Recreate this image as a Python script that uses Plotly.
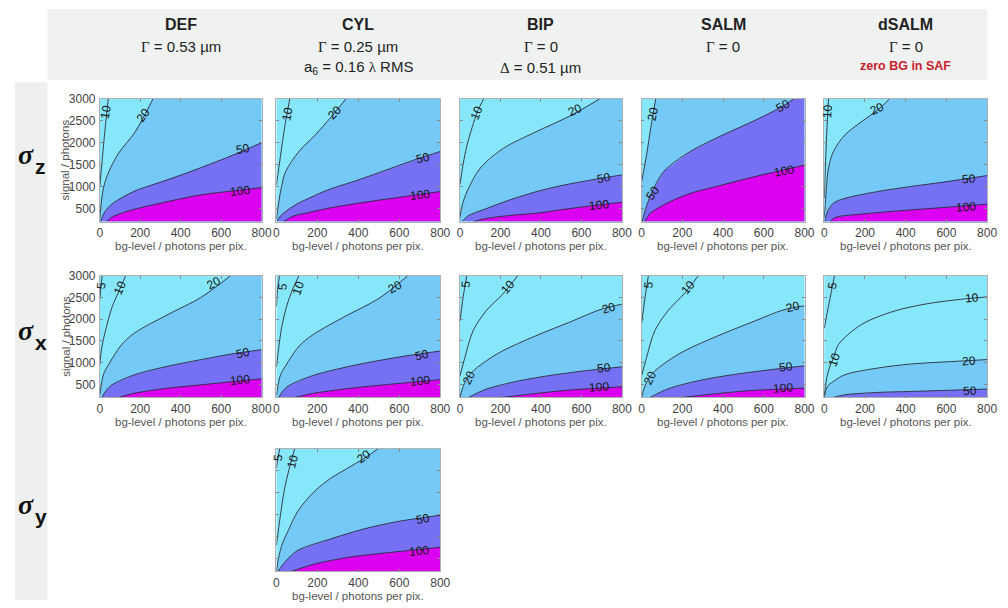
import plotly.graph_objects as go

# ---------------------------------------------------------------------------
# Iso-precision contour lines (nm), read per panel:
#   level -> (bg-level / photons per pix., signal / photons)
# ---------------------------------------------------------------------------
DEF_Z = {
    10: ([0, 12, 25, 36, 42], [1000, 1600, 2250, 2730, 3000]),
    20: ([0, 8, 20, 45, 93, 174, 263], [260, 650, 1000, 1340, 1760, 2240, 3000]),
    50: ([5, 20, 50, 100, 175, 340, 500, 660, 800], [200, 380, 560, 720, 900, 1160, 1430, 1720, 2000]),
    100: ([36, 60, 140, 340, 500, 660, 800], [200, 300, 440, 660, 810, 900, 975]),
}
CYL_Z = {
    10: ([0, 20, 40, 65], [1030, 1700, 2350, 3000]),
    20: ([0, 10, 25, 45, 110, 190, 260, 339], [260, 600, 1000, 1340, 1800, 2180, 2550, 3000]),
    50: ([2, 20, 45, 100, 158, 250, 400, 550, 700, 800], [200, 330, 430, 600, 730, 920, 1150, 1400, 1650, 1800]),
    100: ([37, 80, 158, 250, 400, 550, 700, 800], [200, 320, 405, 500, 620, 720, 820, 885]),
}
BIP_Z = {
    10: ([0, 15, 35, 60, 85, 117], [1050, 1500, 1950, 2350, 2700, 3000]),
    20: ([0, 10, 36, 100, 214, 376, 538, 690], [300, 560, 900, 1420, 1870, 2250, 2600, 3000]),
    50: ([11, 40, 133, 250, 376, 500, 650, 800], [200, 330, 500, 700, 880, 1020, 1150, 1265]),
    100: ([68, 130, 250, 376, 500, 650, 800], [200, 270, 340, 390, 470, 560, 640]),
}
SALM_Z = {
    20: ([0, 25, 45, 69], [1110, 1750, 2350, 3000]),
    50: ([3, 20, 45, 108, 239, 400, 561, 690, 747], [200, 500, 810, 1340, 1800, 2180, 2520, 2825, 3000]),
    100: ([16, 40, 77, 158, 250, 400, 550, 700, 800], [200, 380, 500, 695, 860, 1040, 1220, 1380, 1490]),
}
DSALM_Z = {
    10: ([0, 5, 12, 21], [730, 1400, 2200, 3000]),
    20: ([0, 8, 20, 45, 102, 183, 263, 320], [300, 800, 1400, 1800, 2180, 2480, 2750, 3000]),
    50: ([2, 15, 45, 102, 263, 425, 587, 800], [200, 420, 620, 730, 885, 1000, 1100, 1250]),
    100: ([29, 53, 183, 425, 587, 800], [200, 290, 370, 465, 520, 596]),
}
DEF_X = {
    5: ([0, 5, 12], [2450, 2700, 3000]),
    10: ([0, 10, 28, 60, 95, 128], [950, 1350, 1730, 2270, 2650, 3000]),
    20: ([0, 8, 20, 44, 109, 174, 337, 499, 645], [250, 500, 750, 960, 1420, 1690, 2110, 2500, 3000]),
    50: ([11, 30, 60, 174, 337, 499, 650, 800], [200, 350, 490, 725, 920, 1070, 1200, 1300]),
    100: ([93, 174, 337, 499, 650, 800], [200, 300, 415, 490, 560, 630]),
}
CYL_X = {
    5: ([0, 5, 15], [2300, 2650, 3000]),
    10: ([0, 10, 25, 50, 80, 110], [900, 1300, 1800, 2300, 2700, 3000]),
    20: ([0, 8, 20, 45, 110, 180, 340, 500, 640], [250, 480, 720, 930, 1380, 1650, 2080, 2480, 3000]),
    50: ([11, 30, 60, 175, 340, 500, 650, 800], [200, 340, 470, 700, 900, 1050, 1170, 1270]),
    100: ([90, 175, 340, 500, 650, 800], [200, 290, 400, 480, 545, 610]),
}
BIP_X = {
    5: ([0, 15, 33], [1960, 2500, 3000]),
    10: ([0, 24, 65, 130, 211, 285], [700, 1120, 1740, 2200, 2580, 3000]),
    20: ([0, 15, 49, 130, 211, 374, 537, 699, 800], [200, 450, 737, 1044, 1274, 1619, 1926, 2233, 2348]),
    50: ([41, 130, 293, 455, 618, 800], [200, 392, 584, 714, 814, 906]),
    100: ([211, 374, 537, 800], [200, 292, 369, 445]),
}
SALM_X = {
    5: ([0, 15, 33], [1900, 2450, 3000]),
    10: ([0, 24, 65, 130, 211, 278], [700, 1120, 1740, 2200, 2600, 3000]),
    20: ([0, 15, 49, 130, 211, 374, 537, 699, 800], [200, 450, 737, 1044, 1274, 1619, 1926, 2220, 2310]),
    50: ([41, 130, 293, 455, 618, 800], [200, 400, 600, 730, 830, 929]),
    100: ([200, 374, 537, 800], [200, 290, 360, 415]),
}
DSALM_X = {
    5: ([0, 25, 50], [1800, 2400, 3000]),
    10: ([0, 10, 30, 45, 70, 183, 345, 508, 670, 800], [250, 600, 950, 1100, 1420, 1880, 2190, 2360, 2460, 2515]),
    20: ([0, 15, 45, 102, 264, 427, 589, 800], [200, 450, 570, 724, 878, 971, 1017, 1072]),
    50: ([45, 102, 264, 427, 800], [200, 262, 316, 339, 393]),
}
CYL_Y = {
    5: ([0, 8, 16], [2560, 2800, 3000]),
    10: ([0, 20, 40, 60, 89], [800, 1500, 2100, 2500, 3000]),
    20: ([0, 10, 30, 57, 105, 187, 268, 349, 430, 495], [200, 500, 850, 1127, 1581, 2035, 2337, 2562, 2788, 3000]),
    50: ([8, 30, 57, 105, 268, 430, 592, 800], [200, 350, 495, 683, 947, 1174, 1340, 1483]),
    100: ([73, 187, 349, 511, 800], [200, 370, 521, 612, 751]),
}

# inline contour labels: (level, bg, signal, text angle)
DEF_Z_LBL = [(10, 30, 2700, -80), (20, 215, 2640, -55), (50, 707, 1860, -12), (100, 693, 900, -6)]
CYL_Z_LBL = [(10, 55, 2650, -78), (20, 288, 2690, -45), (50, 717, 1640, -12), (100, 700, 810, -6)]
BIP_Z_LBL = [(10, 82, 2677, -68), (20, 567, 2752, -25), (50, 713, 1187, -10), (100, 689, 568, -5)]
SALM_Z_LBL = [(20, 55, 2654, -78), (50, 55, 848, -55), (50, 693, 2842, -28), (100, 701, 1352, -10)]
DSALM_Z_LBL = [(10, 15, 2729, -85), (20, 257, 2781, -25), (50, 709, 1171, -5), (100, 694, 523, -4)]
DEF_X_LBL = [(5, 10, 2779, -85), (10, 99, 2727, -65), (20, 563, 2834, -28), (50, 709, 1224, -12), (100, 693, 600, -6)]
CYL_X_LBL = [(5, 29, 2750, -85), (10, 106, 2727, -70), (20, 578, 2750, -28), (50, 713, 1179, -12), (100, 699, 587, -6)]
BIP_X_LBL = [(5, 31, 2802, -85), (10, 236, 2742, -50), (20, 737, 2249, -15), (20, 42, 655, -65),
             (50, 713, 883, -7), (100, 689, 444, -4)]
SALM_X_LBL = [(5, 36, 2802, -85), (10, 230, 2742, -50), (20, 741, 2287, -15), (20, 40, 655, -65),
              (50, 707, 898, -7), (100, 693, 420, -4)]
DSALM_X_LBL = [(5, 39, 2768, -80), (10, 726, 2499, -5), (10, 47, 1072, -70), (20, 709, 1048, -4), (50, 717, 354, -3)]
CYL_Y_LBL = [(5, 8, 2789, -85), (10, 81, 2713, -75), (20, 430, 2826, -35), (50, 714, 1392, -12), (100, 698, 675, -6)]

# column headers
COL_TITLES = ["DEF", "CYL", "BIP", "SALM", "dSALM"]
COL_SUBTITLES = [
    ["<span style=\"font-family:'Liberation Serif'\">Γ</span> = 0.53 µm"],
    ["<span style=\"font-family:'Liberation Serif'\">Γ</span> = 0.25 µm",
     "a<sub>6</sub> = 0.16 <span style=\"font-family:'Liberation Serif'\">λ</span> RMS"],
    ["<span style=\"font-family:'Liberation Serif'\">Γ</span> = 0",
     "<span style=\"font-family:'Liberation Serif'\">Δ</span> = 0.51 µm"],
    ["<span style=\"font-family:'Liberation Serif'\">Γ</span> = 0"],
    ["<span style=\"font-family:'Liberation Serif'\">Γ</span> = 0"],
]
ROW_SUBSCRIPTS = ["z", "x", "y"]

X_TICKS = [0, 200, 400, 600, 800]
Y_TICKS = [500, 1000, 1500, 2000, 2500, 3000]
BG_RANGE = [0, 800]
SIG_RANGE = [200, 3000]

# (row, col, contour lines, labels)
PANELS = [
    (0, 0, DEF_Z, DEF_Z_LBL), (0, 1, CYL_Z, CYL_Z_LBL), (0, 2, BIP_Z, BIP_Z_LBL),
    (0, 3, SALM_Z, SALM_Z_LBL), (0, 4, DSALM_Z, DSALM_Z_LBL),
    (1, 0, DEF_X, DEF_X_LBL), (1, 1, CYL_X, CYL_X_LBL), (1, 2, BIP_X, BIP_X_LBL),
    (1, 3, SALM_X, SALM_X_LBL), (1, 4, DSALM_X, DSALM_X_LBL),
    (2, 1, CYL_Y, CYL_Y_LBL),
]

# ---------------------------------------------------------------------------
# styling / geometry
# ---------------------------------------------------------------------------
W, H = 1008, 608
COL_PX = [(98, 262), (277, 443), (463, 627), (647, 812), (832, 997)]
ROW_PX = [(93, 217), (272, 395), (447, 571)]

BASE_FILL = "#86E7FA"
LEVEL_FILLS = [(20, "#74C9F6"), (50, "#7670F4"), (100, "#DC00F0")]
LINE_COLOR = "#2b2b3a"
SANS = "Arial, 'Liberation Sans', sans-serif"
SERIF = "'Liberation Serif', 'Times New Roman', serif"


def px_x(px):
    return px / W


def px_y(py):
    return 1 - py / H


def paper_text(x, y, text, font, angle=0):
    return dict(x=px_x(x), y=px_y(y), xref="paper", yref="paper", text=text, textangle=angle,
                xanchor="center", yanchor="middle", showarrow=False, font=font)


def lower_right_region(bg, sig):
    """Polygon of the panel area lying on the high-sigma side of a contour."""
    xs, ys = list(bg), list(sig)
    if ys[-1] >= SIG_RANGE[1] and xs[-1] < BG_RANGE[1]:
        xs.append(BG_RANGE[1]); ys.append(SIG_RANGE[1])
    xs.append(BG_RANGE[1]); ys.append(SIG_RANGE[0])
    if xs[0] <= BG_RANGE[0] and ys[0] > SIG_RANGE[0]:
        xs.append(BG_RANGE[0]); ys.append(SIG_RANGE[0])
    return xs, ys


fig = go.Figure()
layout_axes = {}
annotations = []
axis_title_font = dict(family=SANS, size=11.5, color="#555")

for i, (row, col, lines, labels) in enumerate(PANELS, start=1):
    xa = "x" if i == 1 else f"x{i}"
    ya = "y" if i == 1 else f"y{i}"
    xkey = "xaxis" if i == 1 else f"xaxis{i}"
    ykey = "yaxis" if i == 1 else f"yaxis{i}"

    for lvl, color in LEVEL_FILLS:
        if lvl in lines:
            rx, ry = lower_right_region(*lines[lvl])
            fig.add_trace(go.Scatter(x=rx, y=ry, mode="lines", fill="toself", fillcolor=color,
                                     line=dict(width=0, color=color), xaxis=xa, yaxis=ya,
                                     hoverinfo="skip", showlegend=False))
    for lvl, (bg, sig) in lines.items():
        fig.add_trace(go.Scatter(x=bg, y=sig, mode="lines",
                                 line=dict(color=LINE_COLOR, width=0.9, shape="spline", smoothing=0.9),
                                 xaxis=xa, yaxis=ya, hoverinfo="skip", showlegend=False))
    for lvl, bx, sy, ang in labels:
        annotations.append(dict(x=bx, y=sy, xref=xa, yref=ya, text=str(lvl), textangle=ang,
                                xanchor="center", yanchor="middle", showarrow=False,
                                font=dict(family=SANS, size=12, color="#151515")))

    x0, x1 = COL_PX[col]
    y0, y1 = ROW_PX[row]
    layout_axes[xkey] = dict(
        domain=[px_x(x0), px_x(x1)], range=BG_RANGE, anchor=ya, tickvals=X_TICKS,
        ticks="inside", ticklen=3, tickcolor="#888", showline=True, linecolor="#b0b0b0",
        linewidth=0.6, mirror="ticks", showgrid=False, zeroline=False,
        tickfont=dict(family=SANS, size=12, color="#444"), fixedrange=True,
    )
    layout_axes[ykey] = dict(
        domain=[px_y(y1), px_y(y0)], range=SIG_RANGE, anchor=xa, tickvals=Y_TICKS,
        ticks="inside", ticklen=3, tickcolor="#888", showline=True, linecolor="#b0b0b0",
        linewidth=0.6, mirror="ticks", showgrid=False, zeroline=False,
        showticklabels=(col == 0), ticklabelstandoff=1,
        tickfont=dict(family=SANS, size=12, color="#444"), fixedrange=True,
    )
    annotations.append(paper_text((x0 + x1) / 2, y1 + 25, "bg-level / photons per pix.", axis_title_font))
    if col == 0:
        annotations.append(paper_text(63, (y0 + y1) / 2, "signal / photons", axis_title_font, angle=-90))

# column headers
for col, (title, subs) in enumerate(zip(COL_TITLES, COL_SUBTITLES)):
    cx = (COL_PX[col][0] + COL_PX[col][1]) / 2
    annotations.append(paper_text(cx, 18, f"<b>{title}</b>", dict(family=SANS, size=16, color="#222")))
    for k, s in enumerate(subs):
        annotations.append(paper_text(cx, 40 + 21 * k, s, dict(family=SANS, size=15, color="#222")))
annotations.append(paper_text(COL_PX[4][0] + 82, 60, "<b>zero BG in SAF</b>",
                              dict(family=SANS, size=12.5, color="#c8202a")))

# row labels (sigma_z, sigma_x, sigma_y)
for row, sub in enumerate(ROW_SUBSCRIPTS):
    cy = (ROW_PX[row][0] + ROW_PX[row][1]) / 2
    annotations.append(paper_text(23, cy - 6, "<b><i>σ</i></b>", dict(family=SERIF, size=28, color="#111")))
    annotations.append(paper_text(38, cy + 6, f"<b>{sub}</b>", dict(family=SANS, size=21, color="#111")))

shapes = [
    dict(type="rect", xref="paper", yref="paper", x0=px_x(45), x1=px_x(997), y0=px_y(74), y1=px_y(2),
         fillcolor="#f0f2f2", line=dict(width=0), layer="below"),
    dict(type="rect", xref="paper", yref="paper", x0=px_x(12), x1=px_x(45), y0=px_y(600), y1=px_y(76),
         fillcolor="#eef0f0", line=dict(width=0), layer="below"),
]

fig.update_layout(
    width=W, height=H, margin=dict(l=0, r=0, t=0, b=0), autosize=False,
    paper_bgcolor="white", plot_bgcolor=BASE_FILL, showlegend=False,
    annotations=annotations, shapes=shapes, **layout_axes,
)

fig.write_html("out.html")
